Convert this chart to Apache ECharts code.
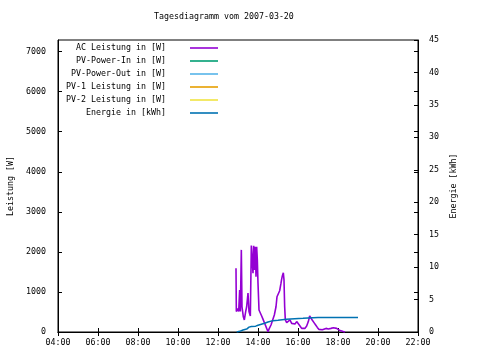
<!DOCTYPE html>
<html><head><meta charset="utf-8">
<script src="https://cdn.jsdelivr.net/npm/echarts@6/dist/echarts.min.js"></script>
<style>html,body{margin:0;padding:0;background:#fff}#c{width:480px;height:360px}</style>
</head><body><div id="c"></div>
<script>
const title = 'Tagesdiagramm vom 2007-03-20';
const seriesNames = ['AC Leistung in [W]','PV-Power-In in [W]','PV-Power-Out in [W]','PV-1 Leistung in [W]','PV-2 Leistung in [W]','Energie in [kWh]'];
const seriesColors = ['#9400d3','#009e73','#56b4e9','#e69f00','#f0e442','#0072b2'];
const xTickHours = [4,6,8,10,12,14,16,18,20,22];

const acTimes = ['12:54','12:55','12:59','13:02','13:05','13:07','13:10','13:12','13:16','13:19','13:23','13:26','13:30','13:33','13:37','13:40','13:43','13:45','13:47','13:50','13:52','13:54','13:56','13:58','14:00','14:03','14:07','14:11','14:14','14:18','14:22','14:26','14:30','14:34','14:39','14:44','14:49','14:54','14:57','15:02','15:05','15:09','15:11','15:13','15:16','15:18','15:20','15:22','15:26','15:31','15:36','15:41','15:46','15:51','15:56','16:01','16:06','16:11','16:16','16:21','16:26','16:31','16:35','16:38','16:41','16:44','16:48','16:53','16:58','17:03','17:08','17:13','17:18','17:24','17:31','17:39','17:46','17:51','17:56','18:01','18:06','18:11','18:16','18:21'];
const acWatts = [1590,510,590,510,1050,510,2050,630,380,300,510,630,970,510,400,2160,2130,1470,2150,1550,2130,1380,2130,1800,1220,550,510,400,340,300,175,90,10,90,175,300,425,630,880,925,1030,1220,1320,1400,1480,1300,630,300,235,260,300,215,260,200,260,215,150,90,50,90,150,260,400,425,320,365,235,175,115,65,105,55,40,90,75,90,105,150,90,50,35,25,10,0];

const enTimes = ['12:56','13:05','13:15','13:26','13:33','13:40','13:53','14:00','14:10','14:20','14:30','14:45','15:00','15:25','16:15','17:00','19:00'];
const enKWh = [0,0.1,0.3,0.45,0.75,0.85,0.9,1.05,1.2,1.35,1.55,1.75,1.8,1.95,2.1,2.25,2.25];

const toH = s => { const [h,m] = s.split(':').map(Number); return h + m/60; };
const pad = n => (n < 10 ? '0' : '') + n;
const FONT = 'DejaVu Sans Mono';
const FS = 8.3;
const txt = {fontFamily: FONT, fontSize: FS, color: '#000'};

const chart = echarts.init(document.getElementById('c'), null, {renderer: 'canvas'});

const series = seriesNames.map((n, i) => ({
  name: n, type: 'line', showSymbol: false, symbol: 'none', animation: false,
  yAxisIndex: i === 5 ? 1 : 0,
  color: seriesColors[i],
  lineStyle: {width: i === 0 ? 1.6 : 1.5, color: seriesColors[i]},
  data: []
}));
series[0].data = acTimes.map((t, i) => [toH(t), acWatts[i]]);
series[5].data = enTimes.map((t, i) => [toH(t), enKWh[i]]);
series[5].step = 'start';

const legendTops = [44, 57, 70, 83, 96, 109];
const legends = seriesNames.map((n, i) => ({
  data: [n], orient: 'vertical', right: 262, top: legendTops[i], align: 'right',
  icon: 'rect', itemWidth: 28, itemHeight: 1.6, padding: 0,
  textStyle: Object.assign({}, txt, {padding: [0, 19, 0, 0]}),
  selectedMode: false
}));

const axisLineBlack = {show: true, lineStyle: {color: '#000', width: 1}};
chart.setOption({
  animation: false,
  backgroundColor: '#fff',
  title: {text: title, left: 154, top: 13, padding: 0, textStyle: Object.assign({}, txt, {fontWeight: 'normal'})},
  legend: legends,
  grid: {left: 58, right: 62, top: 40, bottom: 28, containLabel: false, outerBoundsMode: 'none', show: true, borderColor: '#000', borderWidth: 1, backgroundColor: 'transparent'},
  xAxis: [{
    type: 'value', min: 4, max: 22, interval: 2, position: 'bottom',
    axisLine: axisLineBlack, splitLine: {show: false},
    axisTick: {show: true, inside: true, length: 4, lineStyle: {color: '#000'}},
    axisLabel: Object.assign({}, txt, {margin: 7, formatter: v => pad(v) + ':00'})
  }, {
    type: 'value', min: 4, max: 22, interval: 2, position: 'top',
    axisLine: axisLineBlack, splitLine: {show: false},
    axisTick: {show: true, inside: true, length: 4, lineStyle: {color: '#000'}},
    axisLabel: {show: false}
  }],
  yAxis: [{
    type: 'value', min: 0, max: 7290, interval: 1000, position: 'left',
    name: 'Leistung [W]', nameLocation: 'middle', nameGap: 43, nameRotate: 90,
    nameTextStyle: txt,
    axisLine: axisLineBlack, splitLine: {show: false},
    axisTick: {show: true, inside: true, length: 4, lineStyle: {color: '#000'}},
    axisLabel: Object.assign({}, txt, {margin: 12, showMaxLabel: false, formatter: v => String(v)})
  }, {
    type: 'value', min: 0, max: 45, interval: 5, position: 'right',
    name: 'Energie [kWh]', nameLocation: 'middle', nameGap: 31, nameRotate: 90,
    nameTextStyle: txt,
    axisLine: axisLineBlack, splitLine: {show: false},
    axisTick: {show: true, inside: true, length: 4, lineStyle: {color: '#000'}},
    axisLabel: Object.assign({}, txt, {margin: 11, align: 'left', formatter: v => String(v)})
  }, {
    type: 'value', min: 0, max: 7290, interval: 1000, position: 'right',
    axisLine: {show: false}, splitLine: {show: false},
    axisTick: {show: true, inside: true, length: 4, lineStyle: {color: '#000'}},
    axisLabel: {show: false}
  }],
  series: series
});
</script></body></html>
